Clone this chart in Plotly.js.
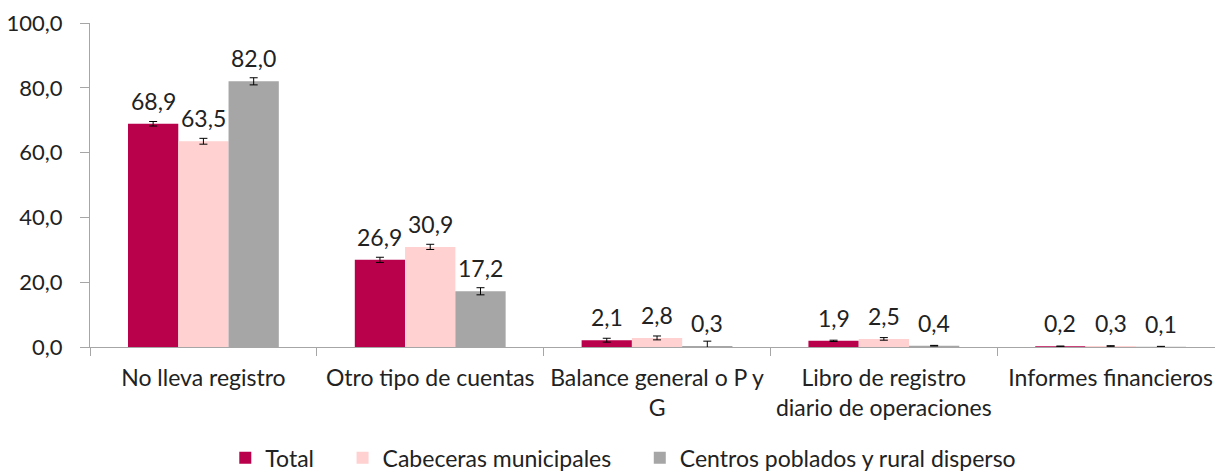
<!DOCTYPE html>
<html>
<head>
<meta charset="utf-8">
<script src="https://cdn.plot.ly/plotly-3.0.1.min.js"></script>
<style>html,body{margin:0;padding:0;background:#fff;}#chart{width:1215px;height:472px;}</style>
</head>
<body>
<div id="chart"></div>
<script>
const categories = ["No lleva registro", "Otro tipo de cuentas", "Balance general o P y<br>G", "Libro de registro<br>diario de operaciones", "Informes financieros"];
const seriesNames = ["Total", "Cabeceras municipales", "Centros poblados y rural disperso"];
const totalValues = [68.9, 26.9, 2.1, 1.9, 0.2];
const cabecerasValues = [63.5, 30.9, 2.8, 2.5, 0.3];
const centrosValues = [82.0, 17.2, 0.3, 0.4, 0.1];
const totalErrors = [0.7, 0.8, 0.6, 0.2, 0.1];
const cabecerasErrors = [0.9, 0.8, 0.6, 0.4, 0.1];
const centrosErrors = [1.1, 1.1, 1.5, 0.1, 0.1];
const yTickValues = [0, 20, 40, 60, 80, 100];

const colors = ["#B8004B", "#FFD1D1", "#A6A6A6"];
const values = [totalValues, cabecerasValues, centrosValues];
const errors = [totalErrors, cabecerasErrors, centrosErrors];
const FONT = "Lato, 'Open Sans', sans-serif";
const FS = 23;
const bargap = 0.335;
const barW = (1 - bargap) / 3;
const legendPad = "\u00A0\u00A0\u00A0\u00A0";

const traces = values.map((v, i) => ({
  type: "bar",
  name: seriesNames[i] + (i < values.length - 1 ? legendPad : ""),
  x: categories,
  y: v,
  marker: {color: colors[i]},
  error_y: {type: "data", array: errors[i], visible: true, color: "#000", thickness: 1, width: 4},
  hoverinfo: "none"
}));

const annotations = [];
values.forEach((v, i) => {
  v.forEach((val, j) => {
    annotations.push({
      x: j + (i - 1) * barW,
      y: val,
      xref: "x", yref: "y",
      text: val.toFixed(1).replace(".", ","),
      showarrow: false,
      yanchor: "bottom",
      yshift: 7,
      font: {family: FONT, size: FS, color: "#222"}
    });
  });
});

const layout = {
  width: 1215, height: 472,
  margin: {l: 90, r: 0, t: 23, b: 125},
  paper_bgcolor: "#fff", plot_bgcolor: "#fff",
  separators: ",.",
  barmode: "group",
  bargap: bargap, bargroupgap: 0,
  font: {family: FONT, size: FS, color: "#222"},
  showlegend: true,
  legend: {
    orientation: "h",
    xref: "container", yref: "container",
    x: 0.513, xanchor: "center",
    y: 0.03, yanchor: "middle",
    font: {family: FONT, size: FS, color: "#222"},
    itemwidth: 30
  },
  xaxis: {
    type: "category",
    range: [-0.5, 4.46],
    showline: true, linecolor: "#A6A6A6", linewidth: 1,
    ticks: "outside", tickson: "boundaries", ticklen: 8, tickcolor: "#A6A6A6",
    ticklabelstandoff: 10,
    showgrid: false, zeroline: false,
    tickfont: {family: FONT, size: FS, color: "#222"},
    fixedrange: true
  },
  yaxis: {
    range: [0, 100],
    tickvals: yTickValues,
    tickformat: ".1f",
    showline: true, linecolor: "#A6A6A6", linewidth: 1,
    ticks: "outside", ticklen: 9, tickcolor: "#A6A6A6",
    ticklabelstandoff: 13,
    showgrid: false, zeroline: false,
    tickfont: {family: FONT, size: 22, color: "#222"},
    fixedrange: true
  },
  annotations: annotations
};

Plotly.newPlot("chart", traces, layout, {displayModeBar: false, staticPlot: true});
</script>
</body>
</html>
